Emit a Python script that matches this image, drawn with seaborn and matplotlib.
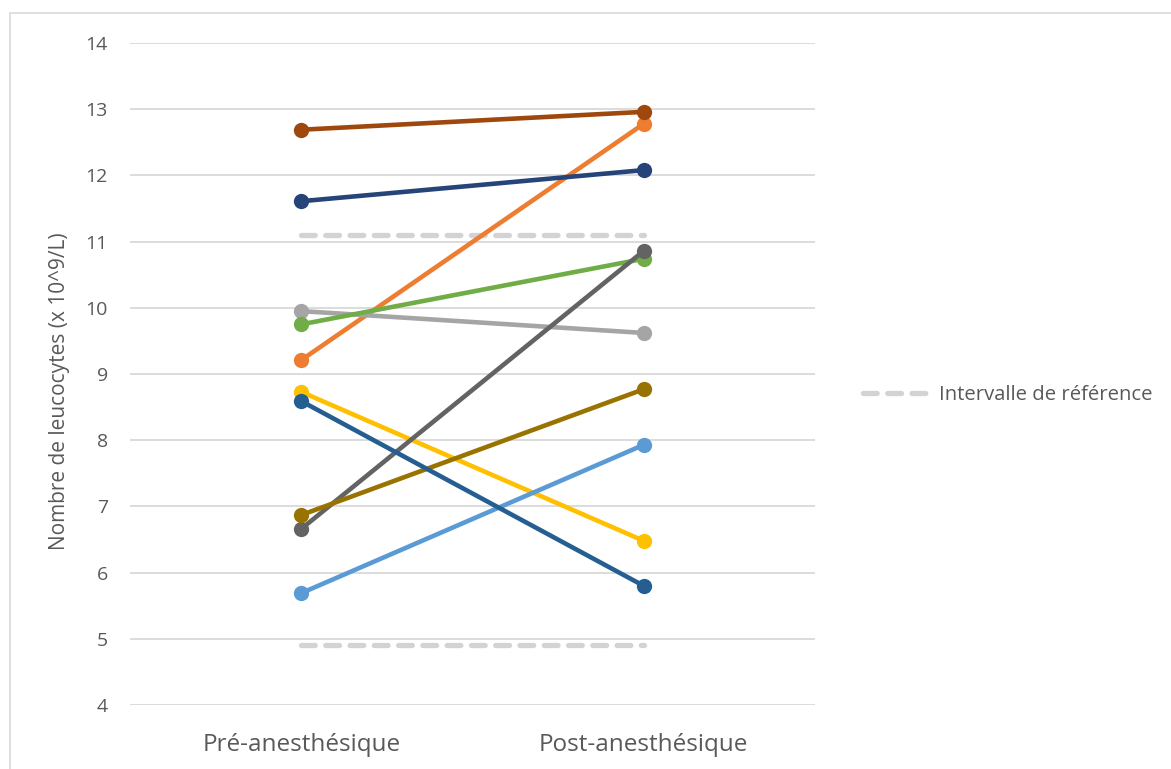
'''
Leucocytes avant / après anesthésie
'''
import seaborn as sns
import pandas as pd
import matplotlib.pyplot as plt
from matplotlib.lines import Line2D
from matplotlib.patches import Rectangle

phases = ['Pré-anesthésique', 'Post-anesthésique']
patients = ['P1', 'P2', 'P3', 'P4', 'P5', 'P6', 'P7', 'P8', 'P9', 'P10']
pre = [9.21, 9.95, 8.73, 5.69, 9.75, 11.61, 12.69, 6.66, 6.87, 8.59]
post = [12.78, 9.62, 6.48, 7.93, 10.74, 12.08, 12.96, 10.86, 8.77, 5.80]
ref_low = 4.9
ref_high = 11.1

colors = ['#ED7D31', '#A5A5A5', '#FFC000', '#5B9BD5', '#70AD47',
          '#264478', '#9E480E', '#636363', '#997300', '#255E91']

rows = []
for i, p in enumerate(patients):
    rows.append({'phase': phases[0], 'patient': p, 'wbc': pre[i]})
    rows.append({'phase': phases[1], 'patient': p, 'wbc': post[i]})
data = pd.DataFrame(rows)

ref = pd.DataFrame({'phase': phases * 2,
                    'borne': ['bas', 'bas', 'haut', 'haut'],
                    'wbc': [ref_low, ref_low, ref_high, ref_high]})

sns.set_style('white')
plt.rcParams['font.family'] = ['Open Sans', 'DejaVu Sans']

fig = plt.figure(figsize=(11.71, 7.69), dpi=100)
ax = fig.add_axes([130 / 1171, 1 - 705 / 769, 685 / 1171, 662 / 769])

ax.set_yticks(range(4, 15))
ax.yaxis.grid(True, color='#D9D9D9', linewidth=1.3)
ax.set_axisbelow(True)

ref_lw = 3.8
ref_dash = (2.6, 2.0)
sns.lineplot(data=ref, x='phase', y='wbc', units='borne', estimator=None,
             color='#D3D3D3', linewidth=ref_lw, ax=ax, legend=False, zorder=2,
             sort=False)
for ln in ax.lines:
    ln.set_dashes(ref_dash)
    ln.set_dash_capstyle('round')

sns.lineplot(data=data, x='phase', y='wbc', hue='patient', palette=colors,
             marker='o', markersize=11, markeredgewidth=0, linewidth=3.3,
             ax=ax, legend=False, zorder=3, sort=False)

ax.set_xlim(-0.5, 1.5)
ax.set_ylim(4, 14)
for s in ax.spines.values():
    s.set_visible(False)
ax.tick_params(axis='both', length=0, colors='#595959')
ax.tick_params(axis='y', labelsize=14, pad=16)
ax.tick_params(axis='x', labelsize=17.5, pad=20)
ax.set_xlabel('')
ax.set_ylabel('Nombre de leucocytes (x 10^9/L)', fontsize=15, color='#595959')
ax.yaxis.set_label_coords(-60 / 685, 0.474)

handle = Line2D([], [], color='#D3D3D3', linewidth=ref_lw, dashes=ref_dash,
                dash_capstyle='round')
fig.legend([handle], ['Intervalle de référence'], loc='center left',
           bbox_to_anchor=(845 / 1171, 1 - 395 / 769), frameon=False,
           fontsize=14.6, labelcolor='#595959', handlelength=3.2,
           handletextpad=0.55)

fig.patches.append(Rectangle((10 / 1171, -0.1), 1.2, 1 - 13 / 769 + 0.1,
                             transform=fig.transFigure, fill=False,
                             edgecolor='#D9D9D9', linewidth=1.2))

plt.savefig('out.png', dpi=100)
